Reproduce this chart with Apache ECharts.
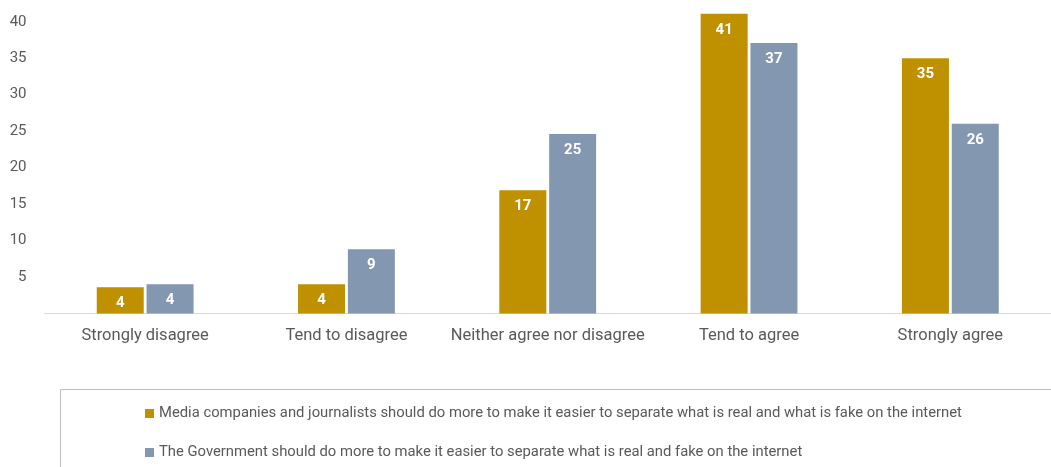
<!DOCTYPE html>
<html><head><meta charset="utf-8">
<script src="https://cdn.jsdelivr.net/npm/echarts@6/dist/echarts.min.js"></script>
<style>html,body{margin:0;padding:0;background:#fff}#c{width:1051px;height:467px}</style>
</head><body><div id="c"></div>
<script>
var categories = ['Strongly disagree','Tend to disagree','Neither agree nor disagree','Tend to agree','Strongly agree'];
var mediaName = 'Media companies and journalists should do more to make it easier to separate what is real and what is fake on the internet';
var govName = 'The Government should do more to make it easier to separate what is real and fake on the internet';
var mediaValues = [3.6, 4.0, 16.9, 41.1, 35.0];
var govValues = [4.0, 8.8, 24.6, 37.1, 26.0];
var yTicks = [5,10,15,20,25,30,35,40];

var font = 'Roboto, "DejaVu Sans", sans-serif';
var chart = echarts.init(document.getElementById('c'));
var lbl = {show:true, position:'insideTop', distance:9, color:'#fff', fontWeight:'bold', fontSize:15, fontFamily:font,
  formatter:function(p){return Math.round(p.value);}};
chart.setOption({
  animation:false,
  textStyle:{fontFamily:font},
  grid:{left:44.5, top:7.2, width:1013, height:306.2},
  xAxis:{type:'category', data:categories,
    axisLine:{lineStyle:{color:'#d9d9d9', width:1}}, axisTick:{show:false},
    axisLabel:{color:'#595959', fontSize:16.5, margin:14, interval:0, fontFamily:font}},
  yAxis:{type:'value', min:0, max:42, interval:5,
    axisLine:{show:false}, axisTick:{show:false}, splitLine:{show:false},
    axisLabel:{color:'#595959', fontSize:15, margin:18, fontFamily:font, showMaxLabel:false,
      formatter:function(v){return yTicks.indexOf(v)>=0 ? String(v) : '';}}},
  legend:{orient:'vertical', left:140, top:401, itemGap:24, itemWidth:9, itemHeight:9,
    icon:'rect', textStyle:{color:'#595959', fontSize:14.8, fontFamily:font}, data:[mediaName, govName]},
  graphic:[{type:'rect', shape:{x:60.5, y:389.5, width:1000, height:100}, style:{fill:'none', stroke:'#bfbfbf', lineWidth:1}, silent:true}],
  series:[
    {name:mediaName, type:'bar', data:mediaValues, barWidth:47, barGap:'6%', itemStyle:{color:'#BF9000'}, label:lbl},
    {name:govName, type:'bar', data:govValues, barWidth:47, barGap:'6%', itemStyle:{color:'#8497B0'}, label:lbl}
  ]
});
</script></body></html>
